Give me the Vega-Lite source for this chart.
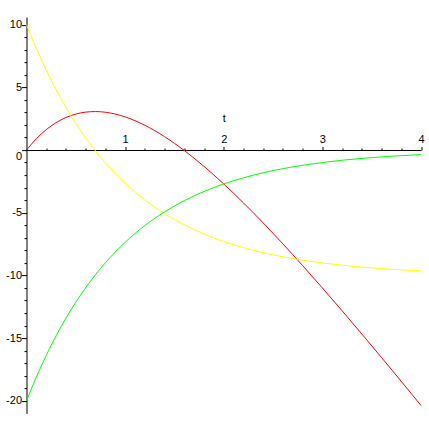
{
  "$schema": "https://vega.github.io/schema/vega-lite/v6.json",
  "width": 394.5,
  "height": 396.3,
  "autosize": {"type": "none"},
  "padding": {"left": 26.5, "top": 17.1, "right": 8, "bottom": 15},
  "background": "white",
  "config": {
    "view": {"stroke": null},
    "axis": {
      "grid": false,
      "domainColor": "black",
      "tickColor": "black",
      "labelColor": "black",
      "titleColor": "black",
      "labelFont": "Liberation Sans",
      "titleFont": "Liberation Sans",
      "labelFontSize": 11,
      "titleFontSize": 11,
      "titleFontWeight": "normal",
      "labelOverlap": false,
      "labelFlush": false
    }
  },
  "data": {
    "values": [
      {"t": 0, "s": "position", "v": 0},
      {"t": 0.1, "s": "position", "v": 0.903},
      {"t": 0.2, "s": "position", "v": 1.625},
      {"t": 0.3, "s": "position", "v": 2.184},
      {"t": 0.4, "s": "position", "v": 2.594},
      {"t": 0.5, "s": "position", "v": 2.869},
      {"t": 0.6, "s": "position", "v": 3.024},
      {"t": 0.7, "s": "position", "v": 3.068},
      {"t": 0.8, "s": "position", "v": 3.013},
      {"t": 1.0, "s": "position", "v": 2.642},
      {"t": 1.2, "s": "position", "v": 1.976},
      {"t": 1.4, "s": "position", "v": 1.068},
      {"t": 1.6, "s": "position", "v": -0.038},
      {"t": 1.8, "s": "position", "v": -1.306},
      {"t": 2.0, "s": "position", "v": -2.707},
      {"t": 2.2, "s": "position", "v": -4.216},
      {"t": 2.4, "s": "position", "v": -5.814},
      {"t": 2.6, "s": "position", "v": -7.485},
      {"t": 2.8, "s": "position", "v": -9.216},
      {"t": 3.0, "s": "position", "v": -10.996},
      {"t": 3.2, "s": "position", "v": -12.815},
      {"t": 3.4, "s": "position", "v": -14.667},
      {"t": 3.6, "s": "position", "v": -16.546},
      {"t": 3.8, "s": "position", "v": -18.447},
      {"t": 4.0, "s": "position", "v": -20.366},
      {"t": 0, "s": "velocity", "v": 10},
      {"t": 0.1, "s": "velocity", "v": 8.097},
      {"t": 0.2, "s": "velocity", "v": 6.375},
      {"t": 0.3, "s": "velocity", "v": 4.816},
      {"t": 0.4, "s": "velocity", "v": 3.406},
      {"t": 0.5, "s": "velocity", "v": 2.131},
      {"t": 0.6, "s": "velocity", "v": 0.976},
      {"t": 0.7, "s": "velocity", "v": -0.068},
      {"t": 0.8, "s": "velocity", "v": -1.013},
      {"t": 1.0, "s": "velocity", "v": -2.642},
      {"t": 1.2, "s": "velocity", "v": -3.976},
      {"t": 1.4, "s": "velocity", "v": -5.068},
      {"t": 1.6, "s": "velocity", "v": -5.962},
      {"t": 1.8, "s": "velocity", "v": -6.694},
      {"t": 2.0, "s": "velocity", "v": -7.293},
      {"t": 2.2, "s": "velocity", "v": -7.784},
      {"t": 2.4, "s": "velocity", "v": -8.186},
      {"t": 2.6, "s": "velocity", "v": -8.515},
      {"t": 2.8, "s": "velocity", "v": -8.784},
      {"t": 3.0, "s": "velocity", "v": -9.004},
      {"t": 3.2, "s": "velocity", "v": -9.185},
      {"t": 3.4, "s": "velocity", "v": -9.333},
      {"t": 3.6, "s": "velocity", "v": -9.454},
      {"t": 3.8, "s": "velocity", "v": -9.553},
      {"t": 4.0, "s": "velocity", "v": -9.634},
      {"t": 0, "s": "acceleration", "v": -20},
      {"t": 0.1, "s": "acceleration", "v": -18.097},
      {"t": 0.2, "s": "acceleration", "v": -16.375},
      {"t": 0.3, "s": "acceleration", "v": -14.816},
      {"t": 0.4, "s": "acceleration", "v": -13.406},
      {"t": 0.5, "s": "acceleration", "v": -12.131},
      {"t": 0.6, "s": "acceleration", "v": -10.976},
      {"t": 0.7, "s": "acceleration", "v": -9.932},
      {"t": 0.8, "s": "acceleration", "v": -8.987},
      {"t": 1.0, "s": "acceleration", "v": -7.358},
      {"t": 1.2, "s": "acceleration", "v": -6.024},
      {"t": 1.4, "s": "acceleration", "v": -4.932},
      {"t": 1.6, "s": "acceleration", "v": -4.038},
      {"t": 1.8, "s": "acceleration", "v": -3.306},
      {"t": 2.0, "s": "acceleration", "v": -2.707},
      {"t": 2.2, "s": "acceleration", "v": -2.216},
      {"t": 2.4, "s": "acceleration", "v": -1.814},
      {"t": 2.6, "s": "acceleration", "v": -1.485},
      {"t": 2.8, "s": "acceleration", "v": -1.216},
      {"t": 3.0, "s": "acceleration", "v": -0.996},
      {"t": 3.2, "s": "acceleration", "v": -0.815},
      {"t": 3.4, "s": "acceleration", "v": -0.667},
      {"t": 3.6, "s": "acceleration", "v": -0.546},
      {"t": 3.8, "s": "acceleration", "v": -0.447},
      {"t": 4.0, "s": "acceleration", "v": -0.366}
    ]
  },
  "mark": {"type": "line", "strokeWidth": 1, "interpolate": "monotone", "clip": false},
  "encoding": {
    "x": {
      "field": "t",
      "type": "quantitative",
      "scale": {"domain": [0, 4], "nice": false, "zero": false},
      "axis": {
        "orient": "top",
        "offset": -132.9,
        "title": "t",
        "titleX": 197.2,
        "titleY": -28,
        "titleAlign": "center",
        "titleBaseline": "alphabetic",
        "titleAngle": 0,
        "values": [0.2, 0.4, 0.6, 0.8, 1, 1.2, 1.4, 1.6, 1.8, 2, 2.2, 2.4, 2.6, 2.8, 3, 3.2, 3.4, 3.6, 3.8, 4],
        "labelExpr": "datum.value % 1 == 0 ? '' + datum.value : ''",
        "tickSize": {"condition": {"test": "datum.value % 1 == 0", "value": 3.5}, "value": 2},
        "labelPadding": 1.5
      }
    },
    "y": {
      "field": "v",
      "type": "quantitative",
      "scale": {"domain": [-21, 10.6], "nice": false, "zero": false},
      "axis": {
        "orient": "left",
        "offset": 0,
        "title": null,
        "values": [-20, -19, -18, -17, -16, -15, -14, -13, -12, -11, -10, -9, -8, -7, -6, -5, -4, -3, -2, -1, 0, 1, 2, 3, 4, 5, 6, 7, 8, 9, 10],
        "labelExpr": "datum.value % 5 == 0 ? '' + datum.value : ''",
        "tickSize": {"condition": {"test": "datum.value % 5 == 0", "value": 5}, "value": 2.5},
        "labelPadding": 0,
        "labelOffset": {"condition": {"test": "datum.value == 0", "value": 6}, "value": 0}
      }
    },
    "color": {
      "field": "s",
      "type": "nominal",
      "scale": {"domain": ["position", "velocity", "acceleration"], "range": ["#ff0000", "#ffff00", "#00ff00"]},
      "legend": null
    }
  }
}
